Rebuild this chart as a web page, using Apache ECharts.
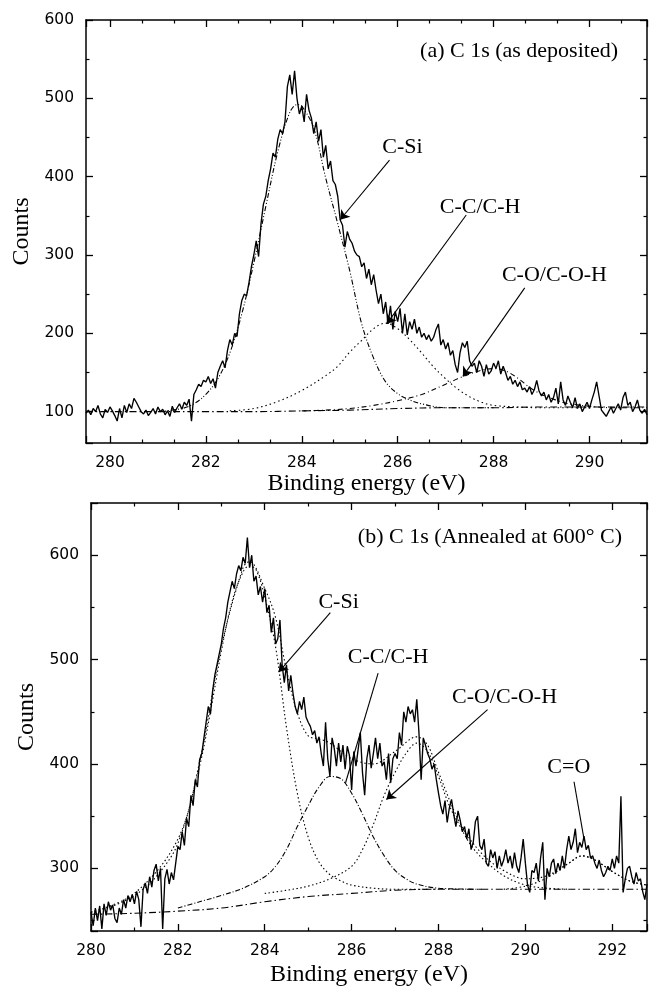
<!DOCTYPE html>
<html><head><meta charset="utf-8">
<script src="https://cdn.jsdelivr.net/npm/echarts@6/dist/echarts.min.js"></script>
<style>html,body{margin:0;padding:0;background:#fff}#c{width:650px;height:988px}</style>
</head><body><div id="c"></div>
<script>
// ---------- Panel (a): C 1s as deposited ----------
const topStart = 279.5, topStep = 0.05;   // eV grid of the measured spectrum
const topCounts = [
  98,102,96,104,100,108,97,92,103,99,106,101,95,88,104,92,108,99,110,104,
  117,112,106,100,97,102,95,99,104,97,106,100,103,96,101,94,107,99,105,110,
  103,112,108,116,88,122,128,135,132,140,138,145,136,142,130,150,158,165,156,178,
  192,185,200,196,225,242,250,248,265,285,300,318,298,340,365,375,395,410,430,425,
  448,460,455,470,515,530,505,535,500,480,490,470,505,485,475,455,470,445,460,425,
  440,410,420,395,390,375,345,338,310,330,320,315,305,300,298,285,290,270,282,262,
  275,255,238,250,225,240,212,235,205,228,215,232,200,225,198,215,205,218,200,208,
  195,200,192,198,190,195,205,212,185,192,180,188,172,178,160,150,175,188,182,190,
  165,158,162,150,165,158,145,160,148,152,162,155,165,148,158,150,140,145,135,140,
  132,138,128,130,125,132,122,128,140,126,120,125,115,122,112,118,130,110,138,115,
  108,120,112,105,118,104,110,100,106,112,104,115,125,138,120,102,98,94,100,106,
  98,104,110,102,118,125,108,112,100,106,115,102,98,103,96
];
const topCSi = [[281.0,100],[281.5,104],[281.75,110],[282.0,122],[282.25,142],[282.5,175],[282.75,225],[283.0,290],[283.25,362],[283.5,432],[283.75,482],[283.9,492],[284.0,490],[284.25,462],[284.5,398],[284.75,340],[285.0,280],[285.25,212],[285.5,168],[285.75,138],[286.0,123],[286.25,115],[286.5,110],[287.0,105],[287.5,105],[288.0,105]];
const topCC = [[282.5,101],[283.0,104],[283.5,113],[284.0,127],[284.5,146],[284.75,158],[285.0,176],[285.25,191],[285.5,206],[285.75,213],[286.0,206],[286.25,192],[286.5,175],[286.75,157],[287.0,142],[287.25,129],[287.5,119],[287.75,112],[288.0,108],[288.5,106],[289.0,105],[290.0,105]];
const topCO = [[284.0,101],[284.5,102],[285.0,104],[285.5,108],[286.0,114],[286.5,122],[287.0,135],[287.25,142],[287.5,148],[287.75,153],[288.0,155],[288.25,152],[288.5,143],[288.75,131],[289.0,122],[289.25,116],[289.5,111],[290.0,107],[290.5,105],[291.2,105]];
const topBase = [[279.5,100],[281.0,100],[282.0,100],[283.0,100],[284.0,101],[285.0,102],[286.0,104],[287.0,105],[288.0,105],[289.0,106],[290.0,106],[291.2,106]];
const topNoteText = ['C-Si','C-C/C-H','C-O/C-O-H'];
const topNoteAt   = [[286.1,437],[287.72,361],[289.27,274]];
const topNoteFrom = [[285.83,421],[287.43,351],[288.65,258]];
const topNoteTip  = [[284.8,345],[285.77,212],[287.36,145]];
const topNoteArrow = [true,true,true];

// ---------- Panel (b): C 1s annealed at 600 C ----------
const botStart = 280.0, botStep = 0.05;
const botCounts = [
  258,245,262,250,264,242,266,255,268,260,265,252,248,262,256,270,262,274,268,275,
  266,278,270,244,280,286,276,292,282,298,304,288,300,242,290,299,285,296,289,305,
  321,318,335,322,348,340,370,360,385,378,404,410,425,440,455,448,470,485,495,505,
  515,530,540,555,565,575,568,582,590,585,598,592,617,588,600,575,580,562,570,555,
  568,545,552,526,540,515,520,538,495,478,495,470,485,468,455,448,460,452,464,445,
  440,436,428,432,420,426,410,398,440,405,388,425,415,398,420,402,418,395,417,408,
  375,412,398,414,430,392,370,405,418,396,410,425,405,420,398,402,385,410,382,405,
  410,405,430,418,450,440,455,448,452,440,462,430,385,425,418,410,405,395,400,385,
  372,360,352,365,344,358,366,352,340,355,346,335,340,328,338,318,325,345,350,322,
  318,328,305,302,318,310,316,300,312,302,308,318,305,312,300,315,302,296,310,328,
  305,284,277,298,296,305,288,310,325,270,300,292,305,309,295,305,298,312,300,318,
  331,318,325,338,315,325,320,331,318,322,310,312,305,300,308,298,292,296,302,298,
  309,300,312,305,369,277,290,300,302,292,285,296,288,290,278,270,285
];
const botBase = [[280.0,256],[281.0,257],[282.0,259],[283.0,262],[284.0,268],[285.0,273],[286.0,276],[287.0,279],[288.0,280],[290.0,280],[292.8,280]];
const botCSi = [[280.0,258],[280.5,264],[281.0,274],[281.5,292],[282.0,324],[282.5,398],[282.75,450],[283.0,508],[283.25,556],[283.5,584],[283.65,590],[283.8,586],[284.0,560],[284.25,512],[284.5,435],[284.75,372],[285.0,330],[285.25,306],[285.5,294],[285.75,288],[286.0,284],[286.5,281],[287.0,280],[288.0,280]];
const botCC = [[282.0,262],[282.5,268],[283.0,274],[283.5,281],[284.0,292],[284.25,302],[284.5,318],[284.75,340],[285.0,360],[285.25,378],[285.5,388],[285.75,386],[286.0,372],[286.25,352],[286.5,330],[286.75,312],[287.0,298],[287.25,290],[287.5,285],[288.0,281],[289.0,280]];
const botCO = [[284.0,276],[284.5,279],[285.0,283],[285.5,290],[286.0,302],[286.25,318],[286.5,342],[286.75,370],[287.0,392],[287.25,410],[287.5,420],[287.75,412],[288.0,388],[288.25,360],[288.5,340],[288.75,322],[289.0,310],[289.5,293],[290.0,284],[290.5,281],[291.0,280]];
const botCdO = [[289.5,280],[290.0,283],[290.5,291],[291.0,305],[291.3,312],[291.6,308],[292.0,297],[292.4,288],[292.8,284]];
const botEnv = [[280.0,258],[281.0,276],[282.0,328],[282.5,402],[283.0,512],[283.5,588],[283.65,594],[284.0,568],[284.25,540],[284.5,490],[284.75,449],[285.0,427],[285.25,424],[285.5,420],[286.0,405],[286.5,400],[287.0,412],[287.5,426],[287.75,418],[288.0,392],[288.5,343],[289.0,314],[289.5,298],[290.0,290],[290.5,293],[291.0,305],[291.3,312],[291.6,308],[292.0,297],[292.4,288],[292.8,284]];
const botNoteText = ['C-Si','C-C/C-H','C-O/C-O-H','C=O'];
const botNoteAt   = [[285.7,555],[286.84,502],[289.52,464],[291.0,397]];
const botNoteFrom = [[285.51,545],[286.61,487],[289.13,452],[291.12,383]];
const botNoteTip  = [[284.32,488],[285.86,382],[286.8,366],[291.35,328]];
const botNoteArrow = [true,false,true,false];

// ---------- build ----------
const serif = 'Liberation Serif', sans = 'DejaVu Sans';
function spectrum(start, step, counts){ return counts.map((c,i)=>[Math.round((start+i*step)*100)/100, c]); }

function xAxisPair(gi, min, max, minorSplit, nameGap){
  const common = {
    gridIndex: gi, type:'value', min:min, max:max, splitNumber:6,
    axisLine:{show:true, onZero:false, lineStyle:{color:'#000', width:1.5}},
    axisTick:{show:true, inside:true, length:7, lineStyle:{color:'#000', width:1.3}},
    minorTick:{show:true, splitNumber:minorSplit, length:3.5, lineStyle:{color:'#000', width:1.2}},
    splitLine:{show:false}, minorSplitLine:{show:false}
  };
  return [
    Object.assign({}, common, {position:'bottom',
      axisLabel:{formatter:v=> (Math.abs(v%2)<1e-9 ? String(v) : ''), color:'#000', fontFamily:sans, fontSize:15.5, margin:12},
      name:'Binding energy (eV)', nameLocation:'middle', nameGap:nameGap,
      nameTextStyle:{fontFamily:serif, fontSize:24, color:'#000'}}),
    Object.assign({}, common, {position:'top', axisLabel:{show:false}})
  ];
}
function yAxisPair(gi, min, max, split, nameGap){
  const common = {
    gridIndex: gi, type:'value', min:min, max:max, splitNumber:split,
    axisLine:{show:true, onZero:false, lineStyle:{color:'#000', width:1.5}},
    axisTick:{show:true, inside:true, length:7, lineStyle:{color:'#000', width:1.3}},
    minorTick:{show:true, splitNumber:2, length:3.5, lineStyle:{color:'#000', width:1.2}},
    splitLine:{show:false}, minorSplitLine:{show:false}
  };
  return [
    Object.assign({}, common, {position:'left',
      axisLabel:{formatter:v=> (v%100===0 ? String(v) : ''), color:'#000', fontFamily:sans, fontSize:15.5, margin:12},
      name:'Counts', nameLocation:'middle', nameRotate:90, nameGap:nameGap,
      nameTextStyle:{fontFamily:serif, fontSize:24, color:'#000'}}),
    Object.assign({}, common, {position:'right', axisLabel:{show:false}})
  ];
}
function comp(xi, yi, data, dash){
  return {type:'line', xAxisIndex:xi, yAxisIndex:yi, data:data, smooth:0.35, showSymbol:false, silent:true,
    lineStyle:{color:'#000', width:1.1, type:dash}, z:2};
}
function mainSeries(xi, yi, data, text, at, from, tip, arrow){
  return [
    {type:'line', xAxisIndex:xi, yAxisIndex:yi, data:data, showSymbol:false, silent:true,
     lineStyle:{color:'#000', width:1.35}, z:3,
     markLine:{silent:true, animation:false, symbolSize:9, label:{show:false},
       lineStyle:{color:'#000', width:1.1, type:'solid'},
       data: from.map((f,i)=>[{coord:f, symbol:'none'},{coord:tip[i], symbol: arrow[i] ? 'arrow' : 'none'}])}},
    {type:'scatter', xAxisIndex:xi, yAxisIndex:yi, symbolSize:1, silent:true, z:5,
     itemStyle:{color:'rgba(0,0,0,0)', opacity:1},
     data: at.map((a,i)=>({value:a, name:text[i]})),
     label:{show:true, position:'inside', formatter:p=>p.name, fontFamily:serif, fontSize:22, color:'#000', opacity:1}}
  ];
}

const option = {
  animation:false,
  backgroundColor:'#fff',
  title:[
    {text:'(a) C 1s (as deposited)', right:27, top:35, textStyle:{fontFamily:serif, fontSize:22, fontWeight:'normal', color:'#000'}},
    {text:'(b) C 1s (Annealed at 600° C)', right:23, top:521, textStyle:{fontFamily:serif, fontSize:22, fontWeight:'normal', color:'#000'}}
  ],
  grid:[
    {left:86, top:20, width:563, height:423},
    {left:91, top:503, width:558, height:428}
  ],
  xAxis:[].concat(xAxisPair(0, 279.5, 291.2, 3, 28), xAxisPair(1, 280, 292.8, 2, 32)),
  yAxis:[].concat(yAxisPair(0, 60, 600, 5, 51), yAxisPair(1, 240, 650, 4, 47)),
  series:[].concat(
    mainSeries(0, 0, spectrum(topStart, topStep, topCounts), topNoteText, topNoteAt, topNoteFrom, topNoteTip, topNoteArrow),
    [comp(0,0,topCSi,[5,2,1,2,1,2]), comp(0,0,topCC,[1.5,3]), comp(0,0,topCO,[5,3,1,3]), comp(0,0,topBase,[7,3,1.5,3])],
    mainSeries(2, 2, spectrum(botStart, botStep, botCounts), botNoteText, botNoteAt, botNoteFrom, botNoteTip, botNoteArrow),
    [comp(2,2,botCSi,[1.5,2.5]), comp(2,2,botCC,[5,2,1,2]), comp(2,2,botCO,[1.5,2.5]), comp(2,2,botCdO,[1.5,2.5]),
     comp(2,2,botEnv,[1.5,2.5]), comp(2,2,botBase,[7,3,1.5,3])]
  )
};
const chart = echarts.init(document.getElementById('c'), null, {renderer:'canvas'});
chart.setOption(option);
</script></body></html>
